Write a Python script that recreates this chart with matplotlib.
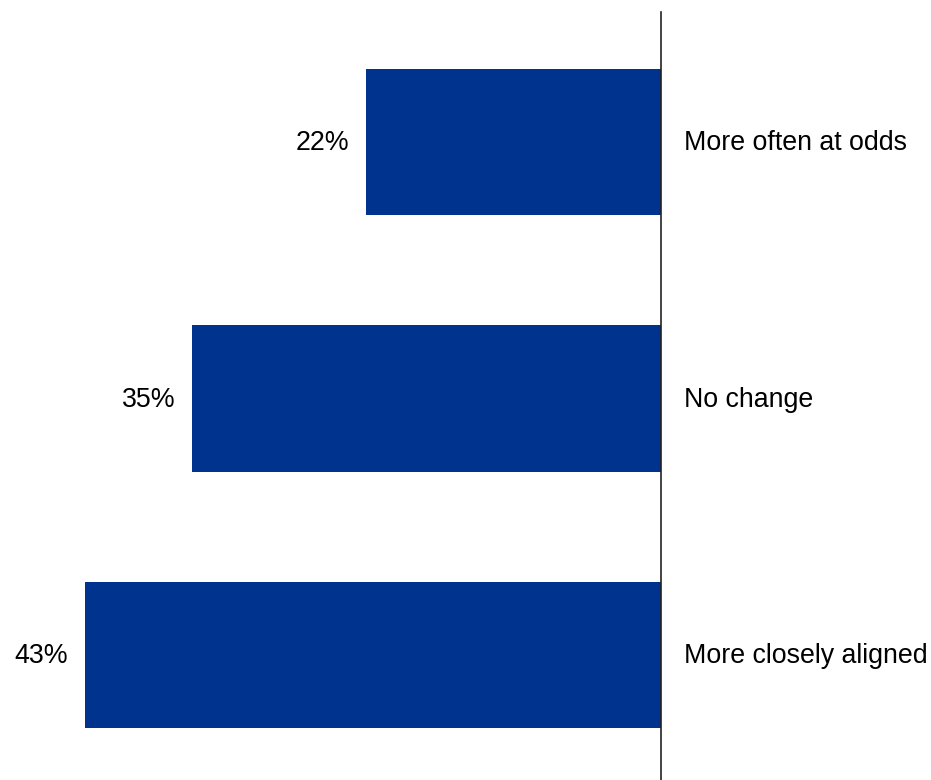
import matplotlib.pyplot as plt

categories = ["More often at odds", "No change", "More closely aligned"]
values = [22, 35, 43]
labels = ["22%", "35%", "43%"]

plt.rcParams['font.family'] = ['Liberation Sans', 'DejaVu Sans']

fig = plt.figure(figsize=(9.31, 7.80), dpi=100)
ax = fig.add_axes([0, 0, 661 / 931, 1 - 12 / 780])

y = list(range(len(categories)))
ax.barh(y, values, height=0.57, color="#00338d")
ax.set_xlim(661 / 13.4, 0)
ax.set_ylim(2.487, -0.507)

for yi, v, lab, cat in zip(y, values, labels, categories):
    ax.text(v + 1.25, yi + 0.005, lab, ha="right", va="center", fontsize=19.3, color="black")
    ax.text(-1.75, yi + 0.005, cat, ha="left", va="center", fontsize=19.3, color="black", clip_on=False)

for s in ["top", "left", "bottom"]:
    ax.spines[s].set_visible(False)
ax.spines["right"].set_color("#222222")
ax.spines["right"].set_linewidth(1.2)
ax.set_xticks([])
ax.set_yticks([])

fig.savefig("out.png", dpi=100)
